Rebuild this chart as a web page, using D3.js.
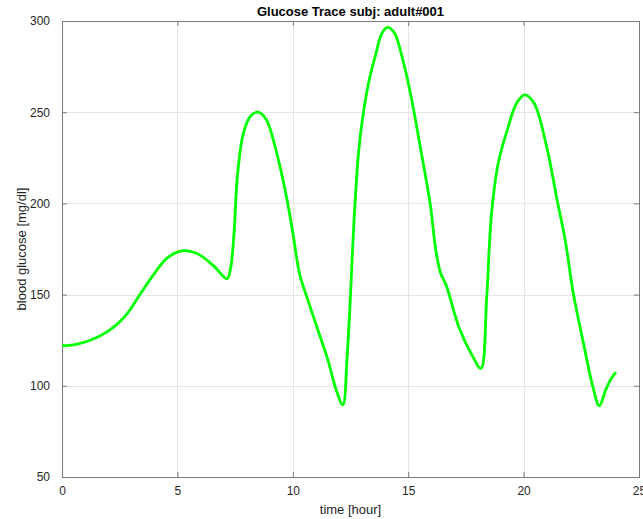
<!DOCTYPE html>
<html>
<head>
<meta charset="utf-8">
<script src="https://cdn.jsdelivr.net/npm/d3@7"></script>
<style>
  body { margin: 0; background: #fff; }
  svg { display: block; font-family: "Liberation Sans", Arial, sans-serif; }
</style>
</head>
<body>
<svg id="chart" width="643" height="519"></svg>
<script>
// glucose trace
var timeHours = [0, 0.5, 1.0, 1.5, 2.0, 2.45, 2.85, 3.4, 4.0, 4.55, 5.2,
    5.85, 6.55, 7.15, 7.3, 7.45, 7.6, 7.85, 8.15, 8.5, 8.85,
    9.15, 9.45, 9.75, 10.0, 10.3, 10.6, 11.05, 11.5, 11.9, 12.17,
    12.35, 12.5, 12.65, 12.85, 13.05, 13.3, 13.6, 13.85, 14.1, 14.4,
    14.8, 15.15, 15.55, 15.95, 16.2, 16.4, 16.65, 17.2, 17.8, 18.15,
    18.4, 18.6, 18.9, 19.3, 19.7, 20.05, 20.45, 21.0, 21.45, 21.8,
    22.15, 22.6, 23.0, 23.28, 23.55, 23.75, 24.0];
var glucose = [122, 122.5, 124, 126.5, 130, 134.5, 140, 150.5, 161.5, 170, 174,
    172.5, 166, 158.7, 164, 183, 215, 238, 247.5, 250, 246,
    235, 220, 202, 184, 161, 149, 132, 115, 97, 89.5,
    115, 150, 190, 228, 249, 267, 282, 293, 296.5, 293.5,
    277, 257, 229, 200, 174, 162, 155, 132, 116, 109.5,
    148, 193, 222, 240.5, 255, 259.5, 255, 231, 202, 180,
    151, 123, 99.5, 89, 97.5, 103, 107.5];
var xTicks = [0, 5, 10, 15, 20, 25];
var yTicks = [50, 100, 150, 200, 250, 300];

// note: "top" is taken by window.top, so keep these in an object
var box = {left: 62, right: 639, top: 21, bottom: 477};
var svg = d3.select('#chart');

var x = d3.scaleLinear().domain([0, 25]).range([box.left, box.right]);
var y = d3.scaleLinear().domain([50, 300]).range([box.bottom, box.top]);

// grid
var grid = svg.append('g').attr('stroke', '#e6e6e6').attr('stroke-width', 1);
grid.selectAll('line.gx').data(xTicks.slice(1, -1)).enter().append('line')
    .attr('x1', function (d) { return Math.round(x(d)) + 0.5; })
    .attr('x2', function (d) { return Math.round(x(d)) + 0.5; })
    .attr('y1', box.top).attr('y2', box.bottom);
grid.selectAll('line.gy').data(yTicks.slice(1, -1)).enter().append('line')
    .attr('y1', function (d) { return Math.round(y(d)) + 0.5; })
    .attr('y2', function (d) { return Math.round(y(d)) + 0.5; })
    .attr('x1', box.left).attr('x2', box.right);

// axes, matlab style: ticks pointing inwards, box on
var tickLen = 5;
function styleAxis(g) {
    g.select('.domain').remove();
    g.selectAll('.tick line').attr('stroke', '#7a7a7a');
    g.selectAll('.tick text').attr('fill', '#262626').style('font-size', '12px');
}

svg.append('g').attr('transform', 'translate(0,' + box.bottom + ')')
    .call(d3.axisBottom(x).tickValues(xTicks).tickSizeInner(-tickLen).tickSizeOuter(0).tickPadding(9))
    .call(styleAxis);
svg.append('g').attr('transform', 'translate(0,' + box.top + ')')
    .call(d3.axisTop(x).tickValues(xTicks).tickSizeInner(-tickLen).tickSizeOuter(0).tickFormat(''))
    .call(styleAxis);
svg.append('g').attr('transform', 'translate(' + box.left + ',0)')
    .call(d3.axisLeft(y).tickValues(yTicks).tickSizeInner(-tickLen).tickSizeOuter(0).tickPadding(12))
    .call(styleAxis);
svg.append('g').attr('transform', 'translate(' + box.right + ',0)')
    .call(d3.axisRight(y).tickValues(yTicks).tickSizeInner(-tickLen).tickSizeOuter(0).tickFormat(''))
    .call(styleAxis);

svg.append('rect')
    .attr('x', box.left + 0.5).attr('y', box.top + 0.5)
    .attr('width', box.right - box.left).attr('height', box.bottom - box.top)
    .attr('fill', 'none').attr('stroke', '#7a7a7a').attr('stroke-width', 1);

// trace
var points = timeHours.map(function (t, i) { return [t, glucose[i]]; });
var line = d3.line()
    .x(function (d) { return x(d[0]); })
    .y(function (d) { return y(d[1]); })
    .curve(d3.curveCatmullRom.alpha(0.5));

svg.append('path')
    .datum(points)
    .attr('d', line)
    .attr('fill', 'none')
    .attr('stroke', '#00ff00')
    .attr('stroke-width', 2.8)
    .attr('stroke-linejoin', 'round');

// labels
svg.append('text')
    .attr('x', (box.left + box.right) / 2).attr('y', 16)
    .attr('text-anchor', 'middle')
    .attr('fill', '#000')
    .style('font-size', '13px').style('font-weight', 'bold')
    .text('Glucose Trace subj: adult#001');

svg.append('text')
    .attr('x', (box.left + box.right) / 2).attr('y', 514)
    .attr('text-anchor', 'middle')
    .attr('fill', '#262626')
    .style('font-size', '13px')
    .text('time [hour]');

svg.append('text')
    .attr('transform', 'translate(26,' + (box.top + box.bottom) / 2 + ') rotate(-90)')
    .attr('text-anchor', 'middle')
    .attr('fill', '#262626')
    .style('font-size', '13px')
    .text('blood glucose [mg/dl]');
</script>
</body>
</html>
